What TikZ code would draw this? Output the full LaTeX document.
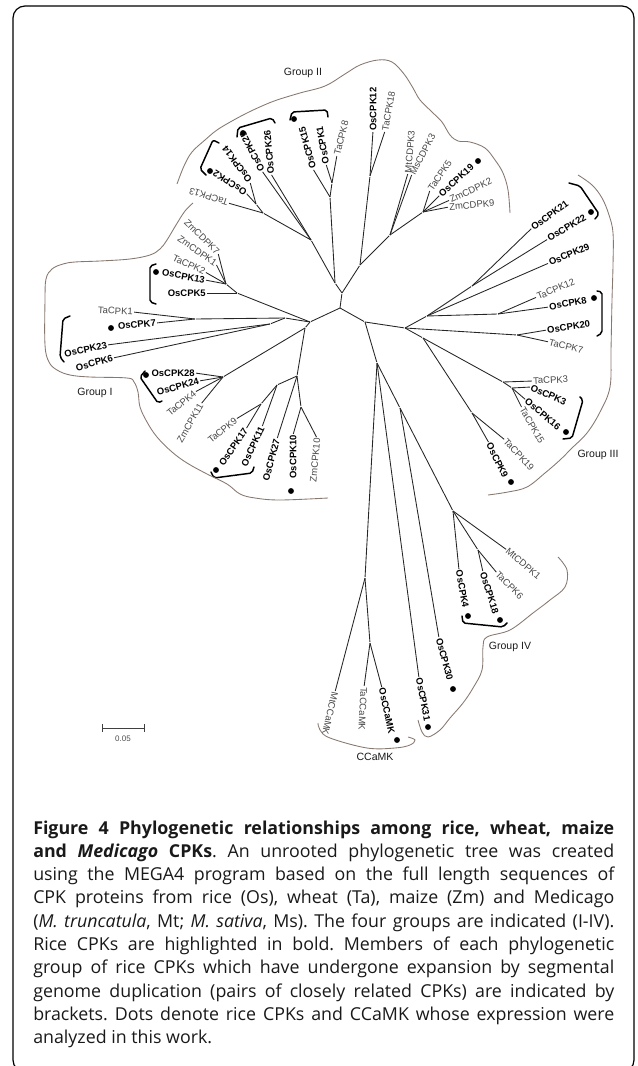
\documentclass[tikz,border=0pt]{standalone}
\usepackage{fontspec}
\setmainfont{Liberation Sans}
\newfontfamily\capfont{Open Sans}
\definecolor{outl}{RGB}{135,120,112}
\frenchspacing
\begin{document}
\begin{tikzpicture}[x=0.75pt,y=-0.75pt]
\tikzset{
 br/.style={line width=0.65pt, draw=black!85, shorten >=0.8pt},
 lab/.style={inner sep=0pt, font=\fontsize{7.1}{8}\selectfont, text=black!72},
 labb/.style={inner sep=0pt, font=\fontsize{7.1}{8}\selectfont\bfseries, text=black},
 grp/.style={inner sep=0pt, font=\fontsize{7.9}{9}\selectfont, text=black!90},
 outline/.style={draw=outl, line width=0.65pt},
 brk/.style={draw=black, line width=1.1pt, rounded corners=1.5pt, line cap=round},
 dot/.style={circle, fill=black, inner sep=0pt, minimum size=4.4pt},
 capl/.style={inner sep=0pt, anchor=base west, text=black!90, font=\capfont\fontsize{13.35}{17.5}\selectfont}
}
\useasboundingbox (0,0) rectangle (637,1066);
\begin{scope}
\clip (0,0) rectangle (637,1066);
\draw[line width=0.9pt, rounded corners=9pt] (13,6) rectangle (634,1072);
\end{scope}

% ---------- internal nodes ----------
\coordinate (C0) at (340,308); \coordinate (G2) at (342,293);
\coordinate (L) at (310,322);  \coordinate (R) at (365,322);
\coordinate (L2) at (305,328);
\coordinate (N) at (335,283); \coordinate (A) at (330,197); \coordinate (B) at (332,183);
\coordinate (M) at (311,240); \coordinate (P) at (263,213); \coordinate (Q) at (256,204);
\coordinate (S) at (360,265); \coordinate (T) at (370,176); \coordinate (U) at (390,235);
\coordinate (X) at (423,212);
\coordinate (n5) at (237,293); \coordinate (n13) at (226,284);
\coordinate (I1) at (285,318); \coordinate (J) at (195,319); \coordinate (K) at (270,324);
\coordinate (I2) at (223,377); \coordinate (I3) at (297,376); \coordinate (I4) at (301,407);
\coordinate (I5) at (277,385); \coordinate (I6) at (261,404);
\coordinate (G3) at (405,328); \coordinate (a) at (427,316); \coordinate (b) at (472,286);
\coordinate (c) at (498,314); \coordinate (e) at (517,335); \coordinate (g) at (423,338);
\coordinate (f) at (503,382); \coordinate (f1) at (512,388); \coordinate (h) at (472,413);
\coordinate (D) at (377,363); \coordinate (E) at (400,408); \coordinate (G4) at (453,511);
\coordinate (H) at (478,550); \coordinate (CC) at (365,578); \coordinate (CC2) at (370,643);

% ---------- Group II labels ----------
\node[lab, rotate=162, anchor=west] (TaCPK13) at (228,203) {TaCPK13};
\node[labb, rotate=147, anchor=west] (OsCPK2) at (246,193) {OsCPK2};
\node[labb, rotate=126, anchor=west] (OsCPK14) at (250,182) {OsCPK14};
\node[labb, rotate=117, anchor=west] (OsCPK25) at (262,171) {OsCPK25};
\node[labb, rotate=95, anchor=west] (OsCPK26) at (271,174) {OsCPK26};
\node[labb, rotate=105, anchor=west] (OsCPK15) at (313,169) {OsCPK15};
\node[labb, rotate=100, anchor=west] (OsCPK1) at (326,164) {OsCPK1};
\node[lab, rotate=76, anchor=west] (TaCPK8) at (337,155) {TaCPK8};
\node[labb, rotate=90, anchor=west] (OsCPK12) at (373,131) {OsCPK12};
\node[lab, rotate=80, anchor=west] (TaCPK18) at (385,131) {TaCPK18};
\node[lab, rotate=85, anchor=west] (MtCDPK3) at (408,173) {MtCDPK3};
\node[lab, rotate=62, anchor=west] (MsCDPK3) at (412,174) {MsCDPK3};
\node[lab, rotate=56, anchor=west] (TaCPK5) at (430,190) {TaCPK5};
\node[labb, rotate=42, anchor=west] (OsCPK19) at (440,195) {OsCPK19};
\node[lab, rotate=25, anchor=west] (ZmCDPK2) at (450,200) {ZmCDPK2};
\node[lab, rotate=5, anchor=west] (ZmCDPK9) at (449,207) {ZmCDPK9};

% ---------- Group I labels ----------
\node[lab, rotate=-45, anchor=east] (ZmCDPK7) at (218,253) {ZmCDPK7};
\node[lab, rotate=-35, anchor=east] (ZmCDPK1) at (216,264) {ZmCDPK1};
\node[lab, rotate=-25, anchor=east] (TaCPK2) at (205,272) {TaCPK2};
\node[labb, rotate=-10, anchor=east] (OsCPK13) at (205,280) {OsCPK13};
\node[labb, anchor=east] (OsCPK5) at (206,293) {OsCPK5};
\node[lab, rotate=-3, anchor=east] (TaCPK1) at (133,312) {TaCPK1};
\node[labb, rotate=5, anchor=east] (OsCPK7) at (156,323) {OsCPK7};
\node[labb, rotate=12, anchor=east] (OsCPK23) at (107,345) {OsCPK23};
\node[labb, rotate=15, anchor=east] (OsCPK6) at (113,358) {OsCPK6};
\node[labb, anchor=east] (OsCPK28) at (195,373) {OsCPK28};
\node[labb, rotate=15, anchor=east] (OsCPK24) at (199,381) {OsCPK24};
\node[lab, rotate=40, anchor=east] (TaCPK4) at (195,392) {TaCPK4};
\node[lab, rotate=60, anchor=east] (ZmCPK11) at (201,404) {ZmCPK11};
\node[lab, rotate=40, anchor=east] (TaCPK9) at (236,419) {TaCPK9};
\node[labb, rotate=55, anchor=east] (OsCPK17) at (246,429) {OsCPK17};
\node[labb, rotate=65, anchor=east] (OsCPK11) at (262,427) {OsCPK11};
\node[labb, rotate=75, anchor=east] (OsCPK27) at (277,439) {OsCPK27};
\node[labb, rotate=90, anchor=east] (OsCPK10) at (293,435) {OsCPK10};
\node[lab, rotate=85, anchor=east] (ZmCPK10) at (317,438) {ZmCPK10};

% ---------- Group III labels ----------
\node[labb, rotate=36, anchor=west] (OsCPK21) at (532,228) {OsCPK21};
\node[labb, rotate=31, anchor=west] (OsCPK22) at (548,239) {OsCPK22};
\node[labb, rotate=23, anchor=west] (OsCPK29) at (549,263) {OsCPK29};
\node[lab, rotate=23, anchor=west] (TaCPK12) at (537,297) {TaCPK12};
\node[labb, rotate=10, anchor=west] (OsCPK8) at (549,307) {OsCPK8};
\node[labb, rotate=8, anchor=west] (OsCPK20) at (547,330) {OsCPK20};
\node[lab, rotate=-14, anchor=west] (TaCPK7) at (549,342) {TaCPK7};
\node[lab, rotate=3, anchor=west] (TaCPK3) at (533,381) {TaCPK3};
\node[labb, rotate=-24, anchor=west] (OsCPK3) at (531,387) {OsCPK3};
\node[labb, rotate=-40, anchor=west] (OsCPK16) at (526,400) {OsCPK16};
\node[lab, rotate=-60, anchor=west] (TaCPK15) at (522,408) {TaCPK15};
\node[lab, rotate=-47, anchor=west] (TaCPK19) at (505,440) {TaCPK19};
\node[labb, rotate=-64, anchor=west] (OsCPK9) at (489,443) {OsCPK9};

% ---------- Group IV / CCaMK labels ----------
\node[labb, rotate=-80, anchor=west] (OsCPK4) at (459,570) {OsCPK4};
\node[labb, rotate=-73, anchor=west] (OsCPK18) at (483,572) {OsCPK18};
\node[lab, rotate=-45, anchor=west] (TaCPK6) at (497,573) {TaCPK6};
\node[lab, rotate=-40, anchor=west] (MtCDPK1) at (507,550) {MtCDPK1};
\node[labb, rotate=-75, anchor=west] (OsCPK30) at (439,638) {OsCPK30};
\node[labb, rotate=-79, anchor=west] (OsCPK31) at (419,678) {OsCPK31};
\node[lab, rotate=-103, anchor=west] (MtCCaMK) at (335,692) {MtCCaMK};
\node[lab, rotate=-93, anchor=west] (TaCCaMK) at (364,687) {TaCCaMK};
\node[labb, rotate=-78, anchor=west] (OsCCaMK) at (382,688) {OsCCaMK};

% ---------- branches ----------
\draw[br] (C0) -- (G2); \draw[br] (C0) -- (L); \draw[br] (C0) -- (R);
\draw[br] (G2) -- (N); \draw[br] (N) -- (A); \draw[br] (A) -- (B);
\draw[br] (N) -- (M); \draw[br] (M) -- (P); \draw[br] (P) -- (Q);
\draw[br] (G2) -- (S); \draw[br] (S) -- (T); \draw[br] (S) -- (U); \draw[br] (U) -- (X);
\draw[br] (L) -- (n5); \draw[br] (n5) -- (n13); \draw[br] (L) -- (I1);
\draw[br] (I1) -- (J); \draw[br] (I1) -- (K); \draw[br] (L) -- (L2);
\draw[br] (L2) -- (I2); \draw[br] (L2) -- (I3); \draw[br] (I3) -- (I4);
\draw[br] (I3) -- (I5); \draw[br] (I5) -- (I6);
\draw[br] (R) -- (G3); \draw[br] (G3) -- (a); \draw[br] (a) -- (b); \draw[br] (a) -- (c);
\draw[br] (G3) -- (e); \draw[br] (G3) -- (g); \draw[br] (g) -- (f); \draw[br] (f) -- (f1);
\draw[br] (g) -- (h);
\draw[br] (R) -- (D); \draw[br] (D) -- (CC); \draw[br] (CC) -- (CC2);
\draw[br] (D) -- (E); \draw[br] (E) -- (G4); \draw[br] (G4) -- (H);

\draw[br] (A) -- (OsCPK15.west); \draw[br] (B) -- (OsCPK1.west); \draw[br] (B) -- (TaCPK8.west);
\draw[br] (M) -- (OsCPK25.west); \draw[br] (M) -- (OsCPK26.west);
\draw[br] (P) -- (TaCPK13.west); \draw[br] (Q) -- (OsCPK2.west); \draw[br] (Q) -- (OsCPK14.west);
\draw[br] (T) -- (OsCPK12.west); \draw[br] (T) -- (TaCPK18.west);
\draw[br] (U) -- (MtCDPK3.west); \draw[br] (U) -- (MsCDPK3.west);
\draw[br] (X) -- (TaCPK5.west); \draw[br] (X) -- (OsCPK19.west);
\draw[br] (X) -- (ZmCDPK2.west); \draw[br] (X) -- (ZmCDPK9.west);

\draw[br] (n5) -- (OsCPK5.east);
\draw[br] (n13) -- (ZmCDPK7.east); \draw[br] (n13) -- (ZmCDPK1.east);
\draw[br] (n13) -- (TaCPK2.east); \draw[br] (n13) -- (OsCPK13.east);
\draw[br] (J) -- (TaCPK1.east); \draw[br] (J) -- (OsCPK7.east);
\draw[br] (K) -- (OsCPK23.east); \draw[br] (K) -- (OsCPK6.east);
\draw[br] (I2) -- (OsCPK28.east); \draw[br] (I2) -- (OsCPK24.east);
\draw[br] (I2) -- (TaCPK4.east); \draw[br] (I2) -- (ZmCPK11.east);
\draw[br] (I4) -- (OsCPK10.east); \draw[br] (I4) -- (ZmCPK10.east);
\draw[br] (I3) -- (OsCPK27.east); \draw[br] (I5) -- (OsCPK11.east);
\draw[br] (I6) -- (TaCPK9.east); \draw[br] (I6) -- (OsCPK17.east);

\draw[br] (b) -- (OsCPK21.west); \draw[br] (b) -- (OsCPK22.west);
\draw[br] (a) -- (OsCPK29.west);
\draw[br] (c) -- (TaCPK12.west); \draw[br] (c) -- (OsCPK8.west);
\draw[br] (e) -- (OsCPK20.west); \draw[br] (e) -- (TaCPK7.west);
\draw[br] (f) -- (TaCPK3.west);
\draw[br] (f1) -- (OsCPK3.west); \draw[br] (f1) -- (OsCPK16.west); \draw[br] (f1) -- (TaCPK15.west);
\draw[br] (h) -- (TaCPK19.west); \draw[br] (h) -- (OsCPK9.west);

\draw[br] (G4) -- (OsCPK4.west); \draw[br] (G4) -- (MtCDPK1.west);
\draw[br] (H) -- (OsCPK18.west); \draw[br] (H) -- (TaCPK6.west);
\draw[br] (E) -- (OsCPK30.west); \draw[br] (D) -- (OsCPK31.west);
\draw[br] (CC) -- (MtCCaMK.west);
\draw[br] (CC2) -- (TaCCaMK.west); \draw[br] (CC2) -- (OsCCaMK.west);

% ---------- dots ----------
\node[dot] (d1) at (210,171) {}; \node[dot] (d2) at (243,133) {};
\node[dot] (d3) at (294,119) {}; \node[dot] (d4) at (478,161) {};
\node[dot] (d5) at (156,272) {}; \node[dot] (d6) at (111,328) {};
\node[dot] (d7) at (146,375) {}; \node[dot] (d8) at (216,470) {};
\node[dot] (d9) at (291,491) {};
\node[dot] (d10) at (591,212) {}; \node[dot] (d11) at (594,298) {};
\node[dot] (d12) at (566,432) {}; \node[dot] (d13) at (511,482) {};
\node[dot] (d14) at (468,616) {}; \node[dot] (d15) at (500,620) {};
\node[dot] (d16) at (453,689) {}; \node[dot] (d17) at (428,727) {};
\node[dot] (d18) at (397,740) {};

% ---------- brackets ----------
\draw[brk] (206,175) -- (200,169) -- (213,140) -- (219,143);
\draw[brk] (237,137) -- (238,128) -- (272,118) -- (275,123);
\draw[brk] (290,120) -- (292,112) -- (327,110) -- (328,117);
\draw[brk] (156,264) -- (150,266) -- (150,302) -- (156,304);
\draw[brk] (70,316) -- (63,319) -- (60,357) -- (64,362);
\draw[brk] (145,371) -- (140,377) -- (158,403) -- (162,401);
\draw[brk] (211,472) -- (214,478) -- (252,473) -- (254,467);
\draw[brk] (569,183) -- (580,186) -- (599,214) -- (595,219);
\draw[brk] (597,291) -- (602,292) -- (602,333) -- (597,336);
\draw[brk] (580,397) -- (583,400) -- (572,438) -- (563,439);
\draw[brk] (462,616) -- (463,623) -- (503,627) -- (507,623);

% ---------- group outlines ----------
\draw[outline] plot[smooth, tension=0.6] coordinates {(177,184) (184,166) (192,152) (205,140) (217,130) (232,121) (247,113) (262,106) (277,100) (300,93) (325,86) (345,74) (360,65) (378,60) (392,62) (404,74) (413,88) (420,100) (432,112) (442,122) (450,135) (458,141) (470,142) (485,148) (495,160) (503,173) (508,190) (510,213)};
\draw[outline] plot[smooth, tension=0.6] coordinates {(193,203) (185,211) (176,225) (167,240) (160,249) (150,255) (130,259) (100,261) (75,262) (63,264) (52,269) (46,279) (45,300) (45,345) (49,362) (57,370) (70,375) (90,377) (127,378) (134,382) (138,392) (140,407) (147,422) (157,437) (172,452) (187,463) (207,474) (227,484) (240,494) (255,498) (280,500) (328,498)};
\draw[outline] plot[smooth, tension=0.6] coordinates {(578,175) (592,185) (602,198) (609,215) (613,233) (613,265) (612,300) (611,350) (610,387) (600,412) (587,433) (572,448) (560,460) (545,473) (527,487) (508,492) (488,495)};
\draw[outline] plot[smooth, tension=0.6] coordinates {(558,557) (567,570) (565,587) (550,600) (533,613) (510,630) (487,637) (483,647) (482,670) (473,688) (463,703) (450,718) (440,730) (428,737) (422,732) (418,720)};
\draw[outline] plot[smooth, tension=0.6] coordinates {(318,723) (320,730) (330,738) (367,748) (395,748) (410,745) (415,740) (408,737)};

% ---------- group labels ----------
\node[grp] (gII) at (303,73) {Group II};
\node[grp] (gI) at (95,393) {Group I};
\node[grp] (gIII) at (598,455) {Group III};
\node[grp] (gIV) at (510,647) {Group IV};
\node[grp] (gCC) at (375,757) {CCaMK};

% ---------- scale bar ----------
\coordinate (sb1) at (102,728); \coordinate (sb2) at (144,728);
\draw[line width=0.6pt, black!75] (sb1) -- (sb2);
\draw[line width=0.6pt, black!75] (102,724) -- (102,732);
\draw[line width=0.6pt, black!75] (144,724) -- (144,732);
\node[inner sep=0pt, font=\fontsize{6}{7}\selectfont, text=black!70] (sbl) at (123,739) {0.05};

% ---------- caption ----------
\node[capl] (cap1) at (33,834) {\makebox[435.75pt][s]{\bfseries Figure 4 Phylogenetic relationships among rice, wheat, maize}};
\node[capl] (cap2) at (33,857.3) {\makebox[435.75pt][s]{{\bfseries and \textit{Medicago} CPKs}. An unrooted phylogenetic tree was created}};
\node[capl] (cap3) at (33,880.6) {\makebox[435.75pt][s]{using the MEGA4 program based on the full length sequences of}};
\node[capl] (cap4) at (33,903.9) {\makebox[435.75pt][s]{CPK proteins from rice (Os), wheat (Ta), maize (Zm) and Medicago}};
\node[capl] (cap5) at (33,927.2) {\makebox[435.75pt][s]{(\textit{M. truncatula}, Mt; \textit{M. sativa}, Ms). The four groups are indicated (I-IV).}};
\node[capl] (cap6) at (33,950.5) {\makebox[435.75pt][s]{Rice CPKs are highlighted in bold. Members of each phylogenetic}};
\node[capl] (cap7) at (33,973.8) {\makebox[435.75pt][s]{group of rice CPKs which have undergone expansion by segmental}};
\node[capl] (cap8) at (33,997.1) {\makebox[435.75pt][s]{genome duplication (pairs of closely related CPKs) are indicated by}};
\node[capl] (cap9) at (33,1020.4) {\makebox[435.75pt][s]{brackets. Dots denote rice CPKs and CCaMK whose expression were}};
\node[capl] (cap10) at (33,1043.7) {analyzed in this work.};
\end{tikzpicture}
\end{document}
